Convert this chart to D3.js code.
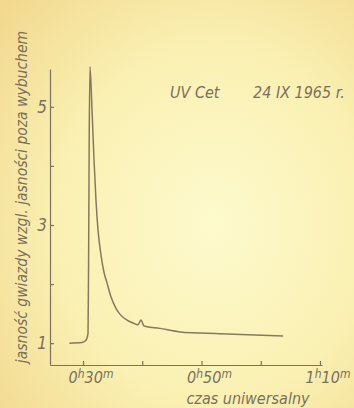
<!DOCTYPE html>
<html>
<head>
<meta charset="utf-8">
<script src="https://cdn.jsdelivr.net/npm/d3@7"></script>
<style>
  html, body { margin: 0; padding: 0; }
  body { width: 354px; height: 408px; overflow: hidden; }
  svg text { font-family: "DejaVu Sans Condensed", "Liberation Sans Narrow", "DejaVu Sans", sans-serif; fill: #7a705c; }
</style>
</head>
<body>
<div id="chart"></div>
<script>
// UV Cet flare, 24 IX 1965 - minutes after 0h UT, relative brightness
const minutes = [27.7, 29.8, 30.5, 30.85, 30.95, 31.05, 31.18, 31.52, 31.86, 32.19, 32.53,
  33.04, 33.54, 34.05, 34.73, 35.57, 36.41, 37.43, 38.44, 39.28, 39.78, 40.3, 42.98, 46.36, 53.1, 63.78];
const brightness = [1.0, 1.01, 1.05, 1.17, 2.5, 4.5, 5.68, 4.95, 4.1, 3.42, 2.92,
  2.49, 2.2, 2.02, 1.78, 1.59, 1.47, 1.39, 1.34, 1.31, 1.39, 1.29, 1.25, 1.19, 1.16, 1.12];

const xTicks = [30, 40, 50, 60, 70];
const xTickLabels = [['0', 'h', '30', 'm'], null, ['0', 'h', '50', 'm'], null, ['1', 'h', '10', 'm']];
const yTicks = [1, 2, 3, 4, 5];
const yTickLabels = ['1', '', '3', '', '5'];

const width = 354, height = 408;
const ink = '#7d7260';

const svg = d3.select('#chart').append('svg')
  .attr('width', width).attr('height', height);

const defs = svg.append('defs');
const grad = defs.append('radialGradient').attr('id', 'paper')
  .attr('cx', '60%').attr('cy', '55%').attr('r', '80%');
grad.append('stop').attr('offset', '0%').attr('stop-color', '#fdfacd');
grad.append('stop').attr('offset', '55%').attr('stop-color', '#faf0b2');
grad.append('stop').attr('offset', '100%').attr('stop-color', '#f2d88e');
svg.append('rect').attr('width', width).attr('height', height).attr('fill', 'url(#paper)');

const x = d3.scaleLinear().domain([24.43, 70.34]).range([50, 322]);
const y = d3.scaleLinear().domain([0.63, 5.64]).range([365, 69]);

// axes
const xAxis = svg.append('g').attr('transform', `translate(0, ${y.range()[0]})`)
  .call(d3.axisBottom(x).tickValues(xTicks).tickSizeInner(-4).tickSizeOuter(0).tickFormat(''));
const yAxis = svg.append('g').attr('transform', `translate(${x.range()[0]}, 0)`)
  .call(d3.axisLeft(y).tickValues(yTicks).tickSizeInner(-4).tickSizeOuter(0).tickFormat(''));
[xAxis, yAxis].forEach(a => {
  a.selectAll('path, line').attr('stroke', ink).attr('stroke-width', 1.2);
});

// x tick labels with superscripts
xTicks.forEach((t, i) => {
  const lab = xTickLabels[i];
  if (!lab) return;
  const txt = svg.append('text')
    .attr('x', x(t) + 8).attr('y', 383)
    .attr('text-anchor', 'middle')
    .attr('font-style', 'italic').attr('font-size', 16);
  txt.append('tspan').text(lab[0]);
  txt.append('tspan').attr('font-size', 12).attr('dy', -5).text(lab[1]);
  txt.append('tspan').attr('dy', 5).text(lab[2]);
  txt.append('tspan').attr('font-size', 12).attr('dy', -5).text(lab[3]);
});

// y tick labels
yTicks.forEach((t, i) => {
  if (!yTickLabels[i]) return;
  svg.append('text')
    .attr('x', 47).attr('y', y(t) + 6)
    .attr('text-anchor', 'end')
    .attr('font-style', 'italic').attr('font-size', 17)
    .text(yTickLabels[i]);
});

// axis titles
svg.append('text')
  .attr('x', 248).attr('y', 404)
  .attr('text-anchor', 'middle')
  .attr('font-style', 'italic').attr('font-size', 16)
  .text('czas uniwersalny');

svg.append('text')
  .attr('transform', 'translate(27, 197) rotate(-90)')
  .attr('text-anchor', 'middle')
  .attr('font-style', 'italic').attr('font-size', 15.5)
  .text('jasność gwiazdy wzgl. jasności poza wybuchem');

// annotation
svg.append('text').attr('x', 170).attr('y', 98)
  .attr('font-style', 'italic').attr('font-size', 16).text('UV Cet');
svg.append('text').attr('x', 253).attr('y', 98)
  .attr('font-style', 'italic').attr('font-size', 16).text('24 IX 1965 r.');

// light curve
const points = minutes.map((m, i) => [m, brightness[i]]);
const line = d3.line().x(d => x(d[0])).y(d => y(d[1])).curve(d3.curveMonotoneX);
svg.append('path').datum(points)
  .attr('d', line)
  .attr('fill', 'none').attr('stroke', '#86795f').attr('stroke-width', 1.5)
  .attr('stroke-linejoin', 'round');
</script>
</body>
</html>
